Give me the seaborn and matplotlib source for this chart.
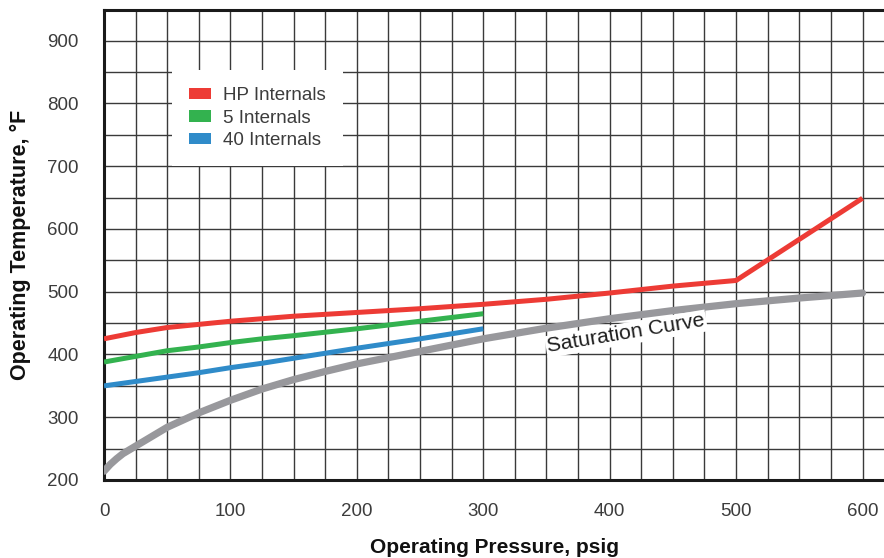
import matplotlib
matplotlib.use("Agg")
import matplotlib.pyplot as plt
from matplotlib.patches import Patch
from matplotlib.ticker import MultipleLocator
import seaborn as sns
import pandas as pd

# values (psig -> deg F)
hp_psig = [0, 25, 50, 75, 100, 125, 150, 200, 250, 300, 350, 400, 450, 500, 600]
hp_temp = [425, 435, 443, 448, 453, 457, 461, 467, 473, 480, 488, 498, 509, 518, 649]

five_psig = [0, 25, 50, 75, 100, 125, 150, 200, 250, 300]
five_temp = [388, 397, 406, 412, 419, 425, 430, 441, 453, 465]

forty_psig = [0, 25, 50, 75, 100, 125, 150, 200, 250, 300]
forty_temp = [350, 357, 364, 371, 379, 386, 394, 410, 425, 441]

sat_psig = [0, 5, 10, 15, 20, 25, 35, 50, 75, 100, 125, 150, 175, 200,
            250, 300, 350, 400, 450, 500, 550, 600]
sat_temp = [214, 225, 234, 242, 248, 254, 266, 284, 307, 327, 345, 360, 373, 385,
            405, 425, 442, 457, 470, 481, 490, 498]

series_names = ["HP Internals", "5 Internals", "40 Internals"]
series_colors = ["#ED3B35", "#33B24F", "#2F8BC9"]
sat_color = "#98989C"

x_ticks = [0, 100, 200, 300, 400, 500, 600]
y_ticks = [200, 300, 400, 500, 600, 700, 800, 900]

sns.set_style("white")
plt.rcParams["font.family"] = ["Liberation Sans", "DejaVu Sans"]

fig = plt.figure(figsize=(8.84, 5.58), dpi=100)
ax = fig.add_axes([104 / 884, 78 / 558, 780 / 884, 470 / 558])

frames = [
    (hp_psig, hp_temp, series_colors[0]),
    (five_psig, five_temp, series_colors[1]),
    (forty_psig, forty_temp, series_colors[2]),
]

sns.lineplot(x=sat_psig, y=sat_temp, ax=ax, color=sat_color, linewidth=5.2,
             solid_capstyle="round", solid_joinstyle="round", zorder=3)
for xs, ys, col in frames:
    df = pd.DataFrame({"psig": xs, "temp": ys})
    sns.lineplot(data=df, x="psig", y="temp", ax=ax, color=col, linewidth=3.6,
                 solid_capstyle="butt", solid_joinstyle="round", zorder=4)

ax.set_xlim(0, 617)
ax.set_ylim(200, 949)
ax.set_xticks(x_ticks)
ax.set_yticks(y_ticks)
ax.xaxis.set_minor_locator(MultipleLocator(25))
ax.yaxis.set_minor_locator(MultipleLocator(50))
ax.grid(True, which="both", color="#3a3a3a", linewidth=1.0)
ax.set_axisbelow(True)

ax.tick_params(axis="x", which="major", direction="out", length=10.5, width=1.6,
               color="#1a1a1a", pad=6, labelsize=13.5, labelcolor="#3c3c3c")
ax.tick_params(axis="y", which="major", direction="out", length=8, width=1.6,
               color="#1a1a1a", pad=10, labelsize=13.5, labelcolor="#3c3c3c")
ax.tick_params(which="minor", length=0)

for side in ["left", "bottom", "top"]:
    ax.spines[side].set_color("#1a1a1a")
    ax.spines[side].set_linewidth(2.2)
ax.spines["right"].set_visible(False)

ax.set_xlabel("Operating Pressure, psig", fontsize=15, fontweight="bold",
              color="#111111", labelpad=13)
ax.set_ylabel("Operating Temperature, °F", fontsize=15.5, fontweight="bold",
              color="#111111", labelpad=12)

handles = [Patch(facecolor=c, edgecolor="none") for c in series_colors]
leg = ax.legend(handles, series_names, loc="upper left",
                bbox_to_anchor=(0.087, 0.872), fontsize=13.5,
                frameon=True, fancybox=False, framealpha=1.0,
                handlelength=1.2, handleheight=0.55, handletextpad=0.65,
                labelspacing=0.3, borderpad=0.9, borderaxespad=0)
leg.get_frame().set_edgecolor("none")
leg.get_frame().set_facecolor("white")
leg.set_zorder(5)
for t in leg.get_texts():
    t.set_color("#3c3c3c")

ax.text(413, 433, "Saturation Curve", fontsize=15.3, color="#1e1e1e",
        rotation=9.5, ha="center", va="center", rotation_mode="anchor",
        bbox=dict(facecolor="white", edgecolor="none", pad=1.0), zorder=5)

fig.savefig("out.png", dpi=100)
